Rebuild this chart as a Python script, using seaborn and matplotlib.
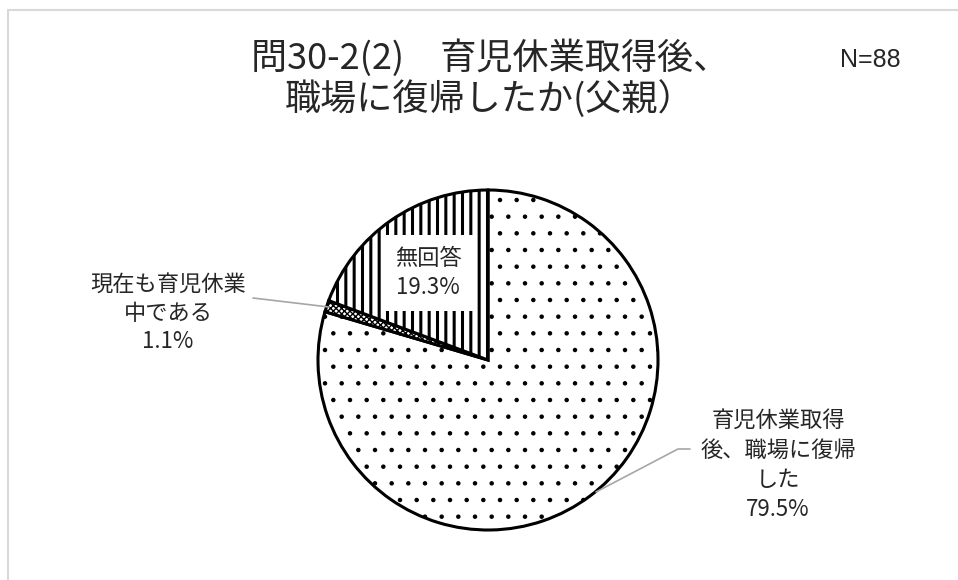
import matplotlib.pyplot as plt
import matplotlib.patches as mpatches
import seaborn as sns

# data
categories = ['育児休業取得\n後、職場に復帰\nした', '現在も育児休業\n中である', '無回答']
shares = [79.5, 1.1, 19.3]
hatches = ['.', 'xxxxxx', '||']
hatch_lw = [0.8, 1.0, 2.2]
title_text = '問30-2(2)\u3000育児休業取得後、\n職場に復帰したか(父親）'
n_text = 'N=88'

sns.set_theme(style='white')
plt.rcParams['font.family'] = ['Noto Sans CJK JP', 'DejaVu Sans']

W, H = 958, 580
fig = plt.figure(figsize=(W / 100, H / 100), dpi=100)
ax = fig.add_axes([0, 0, 1, 1])


def yy(y):
    # pixel row (top origin) -> data y
    return H - y


# chart frame
ax.add_patch(mpatches.Rectangle((8, yy(600)), 980, 590, fill=False,
                                edgecolor='#d9d9d9', linewidth=1.5))

cx, cy, r = 488, 360, 170
wedges, _ = ax.pie(shares, startangle=90, counterclock=False,
                   center=(cx, yy(cy)), radius=r, colors=['white'] * 3,
                   wedgeprops=dict(edgecolor='black', linewidth=2.2))
for w, h, lw in zip(wedges, hatches, hatch_lw):
    w.set_hatch(h)
    if hasattr(w, 'set_hatch_linewidth'):
        w.set_hatch_linewidth(lw)
    else:
        w._hatch_linewidth = lw

ax.set_xlim(0, W)
ax.set_ylim(0, H)
ax.set_aspect('equal')
ax.axis('off')

fs = 16
grey = '#a6a6a6'

# label: returned to work
ax.plot([596, 678, 690], [yy(492), yy(449), yy(449)], color=grey, lw=1.2)
ax.text(778, yy(465), categories[0] + f'\n{shares[0]}%', ha='center', va='center',
        fontsize=fs, linespacing=1.36)

# label: still on leave
ax.plot([253, 329], [yy(298), yy(307)], color=grey, lw=1.2)
ax.text(168, yy(313), categories[1] + f'\n{shares[1]}%', ha='center', va='center',
        fontsize=fs, linespacing=1.3)

# label: no answer
ax.text(428, yy(273), categories[2] + f'\n{shares[2]}%', ha='center', va='center',
        fontsize=fs, linespacing=1.3,
        bbox=dict(boxstyle='square,pad=0.55', facecolor='white', edgecolor='none'))

ax.text(490, yy(79), title_text, ha='center', va='center', fontsize=26,
        linespacing=1.1)
ax.text(870, yy(60), n_text, ha='center', va='center', fontsize=18,
        family=['Liberation Sans', 'DejaVu Sans'])

fig.savefig('out.png', dpi=100)
